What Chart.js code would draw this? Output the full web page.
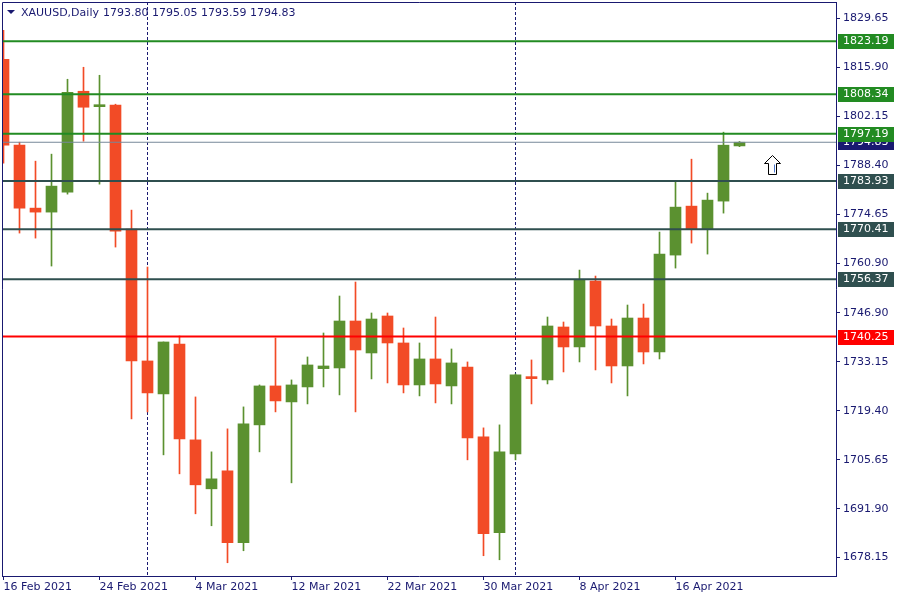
<!DOCTYPE html>
<html>
<head>
<meta charset="utf-8">
<script src="https://cdn.jsdelivr.net/npm/chart.js@4.4.1/dist/chart.umd.min.js"></script>
<style>
  html, body { margin: 0; padding: 0; background: #fff; }
</style>
</head>
<body>
<canvas id="chart" width="900" height="600"></canvas>
<script>
// daily bars, XAUUSD
const dates = ["16 Feb", "17 Feb", "18 Feb", "19 Feb", "22 Feb", "23 Feb", "24 Feb", "25 Feb", "26 Feb",
  "1 Mar", "2 Mar", "3 Mar", "4 Mar", "5 Mar", "8 Mar", "9 Mar", "10 Mar", "11 Mar", "12 Mar",
  "15 Mar", "16 Mar", "17 Mar", "18 Mar", "19 Mar", "22 Mar", "23 Mar", "24 Mar", "25 Mar", "26 Mar",
  "29 Mar", "30 Mar", "31 Mar", "1 Apr", "5 Apr", "6 Apr", "7 Apr", "8 Apr", "9 Apr", "12 Apr",
  "13 Apr", "14 Apr", "15 Apr", "16 Apr", "19 Apr", "20 Apr", "21 Apr", "22 Apr"];

const open = [1818.14, 1794.01, 1776.33, 1775.21, 1780.82, 1809.16, 1804.82, 1805.24, 1770.44, 1733.40,
  1724.14, 1738.17, 1711.23, 1697.48, 1702.53, 1682.32, 1715.44, 1726.38, 1721.89, 1726.10,
  1731.24, 1731.43, 1744.62, 1735.64, 1746.03, 1738.45, 1726.66, 1733.96, 1726.38, 1731.71,
  1712.07, 1685.13, 1707.30, 1728.63, 1728.07, 1742.94, 1737.33, 1755.85, 1743.22, 1731.99,
  1745.46, 1735.92, 1763.14, 1776.89, 1770.44, 1778.30, 1793.80];
const high = [1826.28, 1794.85, 1789.52, 1791.49, 1812.53, 1815.90, 1813.65, 1805.52, 1775.77, 1759.78,
  1738.73, 1740.41, 1723.29, 1707.86, 1714.32, 1720.49, 1726.66, 1739.85, 1728.07, 1734.52,
  1741.25, 1751.64, 1755.57, 1746.87, 1746.87, 1742.66, 1738.45, 1745.74, 1736.76, 1733.12,
  1714.60, 1715.44, 1729.75, 1733.68, 1745.74, 1744.34, 1758.93, 1757.25, 1745.18, 1749.11,
  1749.39, 1769.60, 1783.91, 1790.08, 1780.54, 1797.66, 1795.05];
const low = [1788.96, 1769.32, 1767.91, 1760.06, 1780.26, 1795.13, 1783.07, 1765.39, 1717.12, 1719.09,
  1707.02, 1701.69, 1690.46, 1687.10, 1676.71, 1680.08, 1707.86, 1719.09, 1699.16, 1721.33,
  1726.10, 1723.86, 1719.09, 1728.35, 1727.22, 1724.42, 1723.58, 1721.61, 1721.33, 1705.62,
  1678.68, 1677.55, 1705.62, 1721.33, 1726.94, 1730.31, 1733.12, 1730.87, 1727.22, 1723.58,
  1732.56, 1733.96, 1759.49, 1766.51, 1763.42, 1774.93, 1793.59];
const close = [1794.01, 1776.33, 1775.21, 1782.51, 1808.88, 1804.67, 1805.10, 1769.88, 1733.40, 1724.42,
  1738.73, 1711.51, 1698.60, 1700.28, 1682.32, 1715.72, 1726.38, 1722.17, 1726.66, 1732.27,
  1731.99, 1744.62, 1736.48, 1745.18, 1738.45, 1726.66, 1733.96, 1726.94, 1732.84, 1711.79,
  1684.85, 1707.86, 1729.47, 1728.43, 1743.22, 1737.33, 1756.13, 1743.22, 1731.99, 1745.46,
  1735.92, 1763.42, 1776.61, 1770.44, 1778.58, 1794.01, 1794.83];

// axis labels
const tickIdx = [0, 6, 12, 18, 24, 30, 36, 42];
const tickLabels = ["16 Feb 2021", "24 Feb 2021", "4 Mar 2021", "12 Mar 2021", "22 Mar 2021",
  "30 Mar 2021", "8 Apr 2021", "16 Apr 2021"];
const yTicks = [1829.65, 1815.90, 1802.15, 1788.40, 1774.65, 1760.90, 1746.90, 1733.15,
  1719.40, 1705.65, 1691.90, 1678.15];

// horizontal levels drawn on the chart
const levels = [1823.19, 1808.34, 1797.19, 1783.93, 1770.41, 1756.37, 1740.25];
const levelColors = ["#228b22", "#228b22", "#228b22", "#2f4f4f", "#2f4f4f", "#2f4f4f", "#ff0000"];
const arrowBar = 48, arrowPrice = 1791.25;

const navy = "#191970";
const bull = "#5b9130", bear = "#f24b26";
const font = { family: "DejaVu Sans", size: 11 };
const xMin = -0.09375, xMax = 52.03125;
const yMin = 1672.99, yMax = 1834.23;
const last = close[close.length - 1];

const idx = dates.map((d, i) => i);
const candleColor = (i) => (close[i] >= open[i] ? bull : bear);

// first bar of every month -> period separator
const monthStarts = idx.filter((i) => i > 0 && dates[i].split(" ")[1] !== dates[i - 1].split(" ")[1]);

const hLine = (v, color, w) => ({
  type: "line",
  data: [{ x: xMin, y: v }, { x: xMax, y: v }],
  borderColor: color,
  borderWidth: w,
  pointRadius: 0,
  order: 0,
});

const noPad = (s) => {
  s.paddingTop = 0;
  s.paddingBottom = 0;
  s.paddingLeft = 0;
  s.paddingRight = 0;
};

const mt4Plugin = {
  id: "mt4",
  beforeDatasetsDraw(chart) {
    const { ctx, chartArea, scales } = chart;
    ctx.save();
    ctx.strokeStyle = navy;
    ctx.lineWidth = 1;
    ctx.setLineDash([3, 2]);
    monthStarts.forEach((i) => {
      const x = Math.round(scales.x.getPixelForValue(i) - 0.5) + 0.5;
      ctx.beginPath();
      ctx.moveTo(x, chartArea.top);
      ctx.lineTo(x, chartArea.bottom);
      ctx.stroke();
    });
    ctx.restore();
  },
  afterDraw(chart) {
    const { ctx, chartArea, scales } = chart;
    ctx.save();

    // frame (left + top)
    ctx.strokeStyle = navy;
    ctx.lineWidth = 1;
    ctx.beginPath();
    ctx.moveTo(chartArea.left + 0.5, chartArea.bottom);
    ctx.lineTo(chartArea.left + 0.5, chartArea.top + 0.5);
    ctx.lineTo(chartArea.right, chartArea.top + 0.5);
    ctx.stroke();

    // price boxes on the right axis
    ctx.font = "11px 'DejaVu Sans'";
    ctx.textBaseline = "middle";
    ctx.textAlign = "left";
    const box = (v, bg) => {
      const y = Math.round(scales.y.getPixelForValue(v));
      ctx.fillStyle = bg;
      ctx.fillRect(chartArea.right + 2, y - 7, 56, 15);
      ctx.fillStyle = "#ffffff";
      ctx.fillText(v.toFixed(2), chartArea.right + 7, y + 0.5);
    };
    box(last, navy);
    levels.forEach((v, k) => box(v, levelColors[k]));

    // header
    ctx.fillStyle = navy;
    ctx.beginPath();
    ctx.moveTo(7, 10);
    ctx.lineTo(15, 10);
    ctx.lineTo(11, 14);
    ctx.closePath();
    ctx.fill();
    ctx.fillText("XAUUSD,Daily", 21, 13);
    const n = close.length - 1;
    ctx.fillText([open[n], high[n], low[n], close[n]].map((v) => v.toFixed(2)).join(" "), 103, 13);

    // up arrow
    const ax = Math.round(scales.x.getPixelForValue(arrowBar)) + 0.5;
    const ay = Math.round(scales.y.getPixelForValue(arrowPrice)) + 0.5;
    ctx.beginPath();
    ctx.moveTo(ax, ay);
    ctx.lineTo(ax + 8, ay + 8);
    ctx.lineTo(ax + 4, ay + 8);
    ctx.lineTo(ax + 4, ay + 19);
    ctx.lineTo(ax - 4, ay + 19);
    ctx.lineTo(ax - 4, ay + 8);
    ctx.lineTo(ax - 8, ay + 8);
    ctx.closePath();
    ctx.fillStyle = "#ffffff";
    ctx.fill();
    ctx.strokeStyle = "#000000";
    ctx.stroke();
    ctx.strokeStyle = "#4a78d0";
    ctx.beginPath();
    ctx.moveTo(ax + 2, ay + 9);
    ctx.lineTo(ax + 2, ay + 17);
    ctx.stroke();

    ctx.restore();
  },
};

new Chart(document.getElementById("chart"), {
  type: "bar",
  data: {
    datasets: [
      hLine(last, "#778899", 1),
      ...levels.map((v, k) => hLine(v, levelColors[k], 2)),
      {
        label: "body",
        data: idx.map((i) => ({ x: i, y: [open[i], close[i]] })),
        backgroundColor: idx.map(candleColor),
        barThickness: 11,
        minBarLength: 2,
        grouped: false,
        order: 1,
      },
      {
        label: "wick",
        data: idx.map((i) => ({ x: i, y: [low[i], high[i]] })),
        backgroundColor: idx.map(candleColor),
        barThickness: 1,
        grouped: false,
        order: 2,
      },
    ],
  },
  options: {
    responsive: false,
    animation: false,
    devicePixelRatio: 1,
    layout: { padding: { left: 2, top: 2, right: 0, bottom: 0 } },
    plugins: {
      legend: { display: false },
      tooltip: { enabled: false },
    },
    scales: {
      x: {
        type: "linear",
        min: xMin,
        max: xMax,
        offset: false,
        afterBuildTicks: (s) => {
          s.ticks = tickIdx.map((v) => ({ value: v }));
        },
        afterFit: (s) => {
          s.height = 24;
          noPad(s);
        },
        grid: { drawOnChartArea: false, tickLength: 4, color: navy, offset: false },
        border: { color: navy },
        ticks: {
          align: "start",
          maxRotation: 0,
          autoSkip: false,
          padding: 1,
          color: navy,
          font: font,
          callback: (v, i) => tickLabels[i],
        },
      },
      y: {
        position: "right",
        min: yMin,
        max: yMax,
        afterBuildTicks: (s) => {
          s.ticks = yTicks.map((v) => ({ value: v }));
        },
        afterFit: (s) => {
          s.width = 64;
          noPad(s);
        },
        grid: { drawOnChartArea: false, tickLength: 4, color: navy },
        border: { color: navy },
        ticks: {
          padding: 3,
          color: navy,
          font: font,
          callback: (v) => v.toFixed(2),
        },
      },
    },
  },
  plugins: [mt4Plugin],
});
</script>
</body>
</html>
